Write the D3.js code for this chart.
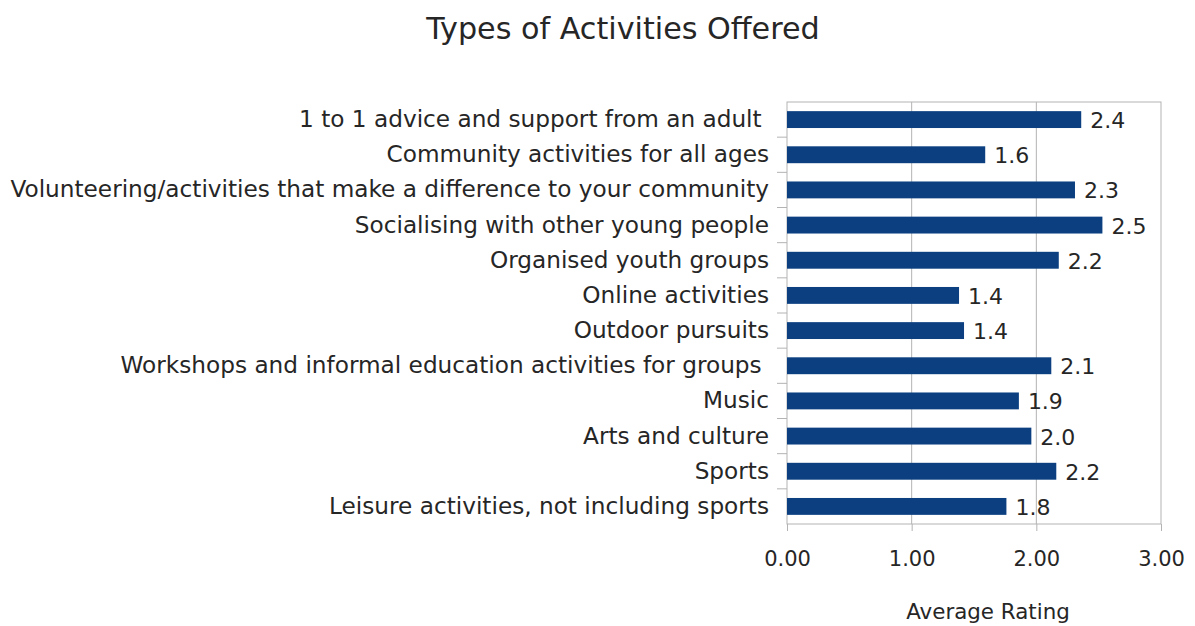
<!DOCTYPE html>
<html>
<head>
<meta charset="utf-8">
<script src="https://cdn.jsdelivr.net/npm/d3@7"></script>
<style>
  html, body { margin: 0; padding: 0; background: #fff; }
  svg { display: block; font-family: "DejaVu Sans", sans-serif; }
</style>
</head>
<body>
<svg id="chart" width="1195" height="626"></svg>
<script>
// Activity categories, top to bottom
const categories = [
  "1 to 1 advice and support from an adult ",
  "Community activities for all ages",
  "Volunteering/activities that make a difference to your community",
  "Socialising with other young people",
  "Organised youth groups",
  "Online activities",
  "Outdoor pursuits",
  "Workshops and informal education activities for groups ",
  "Music",
  "Arts and culture",
  "Sports",
  "Leisure activities, not including sports"
];

// Average rating per category
const ratings = [2.36, 1.59, 2.31, 2.53, 2.18, 1.38, 1.42, 2.12, 1.86, 1.96, 2.16, 1.76];

// X axis ticks
const xTicks = [0, 1, 2, 3];

const svg = d3.select("#chart");
const plot = { left: 787, right: 1161, top: 102, bottom: 524 };
const gridColor = "#b3b3b3";
const textColor = "#262626";
const barColor = "#0b3f80";

const x = d3.scaleLinear().domain([0, 3]).range([plot.left, plot.right]);
const y = d3.scaleBand().domain(categories).range([plot.top, plot.bottom])
  .paddingInner(0.52).paddingOuter(0.26);

// Title
svg.append("text")
  .attr("x", 623).attr("y", 39)
  .attr("text-anchor", "middle")
  .attr("font-size", 30.2)
  .attr("fill", textColor)
  .text("Types of Activities Offered");

// Vertical grid lines
svg.append("g").selectAll("line")
  .data(xTicks.slice(1, -1))
  .join("line")
  .attr("x1", d => x(d)).attr("x2", d => x(d))
  .attr("y1", plot.top).attr("y2", plot.bottom)
  .attr("stroke", gridColor).attr("stroke-width", 1);

// Plot frame
svg.append("rect")
  .attr("x", plot.left).attr("y", plot.top)
  .attr("width", plot.right - plot.left).attr("height", plot.bottom - plot.top)
  .attr("fill", "none").attr("stroke", gridColor).attr("stroke-width", 1);

// X axis
const xAxis = svg.append("g")
  .attr("transform", `translate(0,${plot.bottom})`)
  .call(d3.axisBottom(x).tickValues(xTicks).tickFormat(d3.format(".2f"))
    .tickSize(7).tickPadding(20));
xAxis.select(".domain").remove();
xAxis.selectAll(".tick line").attr("stroke", gridColor);
xAxis.selectAll(".tick text")
  .attr("font-family", "DejaVu Sans, sans-serif")
  .attr("font-size", 21).attr("fill", textColor);

// Y axis: category labels with tick marks on band boundaries
const yAxis = svg.append("g")
  .attr("transform", `translate(${plot.left},0)`)
  .call(d3.axisLeft(y).tickSize(0).tickPadding(18));
yAxis.select(".domain").remove();
yAxis.selectAll(".tick text")
  .attr("font-family", "DejaVu Sans, sans-serif")
  .attr("font-size", 23.2).attr("fill", textColor)
  .style("white-space", "pre");

const boundaries = categories.slice(1).map(c => y(c) - y.step() * y.paddingInner() / 2);
svg.append("g").selectAll("line")
  .data(boundaries)
  .join("line")
  .attr("x1", plot.left - 10).attr("x2", plot.left)
  .attr("y1", d => d).attr("y2", d => d)
  .attr("stroke", gridColor);

// Bars
svg.append("g").selectAll("rect")
  .data(categories)
  .join("rect")
  .attr("x", x(0))
  .attr("y", d => y(d))
  .attr("width", (d, i) => x(ratings[i]) - x(0))
  .attr("height", y.bandwidth())
  .attr("fill", barColor);

// Value labels
svg.append("g").selectAll("text")
  .data(categories)
  .join("text")
  .attr("x", (d, i) => x(ratings[i]) + 9)
  .attr("y", d => y(d) + y.bandwidth() / 2 + 1)
  .attr("dominant-baseline", "central")
  .attr("font-size", 22)
  .attr("fill", textColor)
  .text((d, i) => d3.format(".1f")(ratings[i]));

// Axis title
svg.append("text")
  .attr("x", 988).attr("y", 619)
  .attr("text-anchor", "middle")
  .attr("font-size", 21.4)
  .attr("fill", textColor)
  .text("Average Rating");
</script>
</body>
</html>
